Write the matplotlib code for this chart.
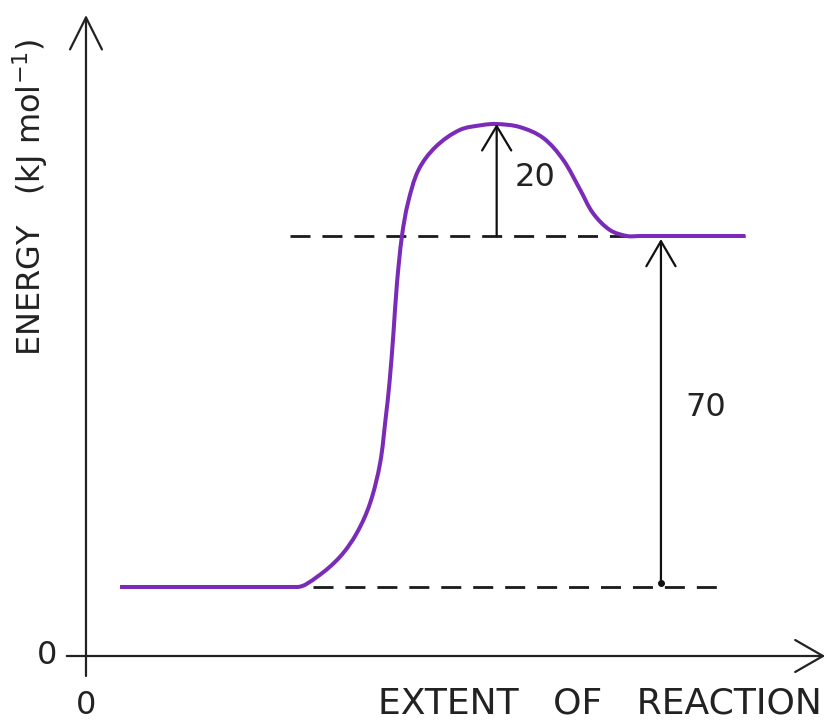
import numpy as np
import matplotlib.pyplot as plt
from matplotlib.path import Path
from matplotlib.patches import PathPatch

# profil d'energie (extent of reaction, energy en kJ/mol)
# points, partie courbe entre le plateau des reactifs et celui des produits
curve_x = [2.85, 3.12, 3.43, 3.66, 3.84, 3.975, 4.047, 4.101, 4.155, 4.203,
           4.27, 4.351, 4.493, 4.723, 5.05, 5.36, 5.55, 5.86, 6.18, 6.45,
           6.68, 6.85, 7.08, 7.31, 7.49]
curve_e = [13.8, 15.8, 19.8, 24.6, 30.6, 38.6, 47.2, 54.6, 64.6, 74.6,
           84.0, 90.6, 97.2, 101.8, 105.2, 106.2, 106.4, 105.8, 103.6, 99.2,
           93.2, 88.6, 85.2, 84.0, 84.0]

reactant_x0 = 0.46
product_x1 = 8.91
reactant_e = 13.8
product_e = 84.0
peak_e = 106.4
peak_x = 5.55
dh_x = 7.77

labels = {"ea": "20", "dh": "70"}

fig = plt.figure(figsize=(8.27, 7.22), dpi=100)
ax = fig.add_axes([0, 0, 1, 1])
ax.set_xlim(-1.162, 10.014)
ax.set_ylim(-13.2, 131.2)
ax.axis("off")

axis_col = "#222222"

# axes avec fleches
ax.annotate("", xy=(0, 128.2), xytext=(0, -4),
            arrowprops=dict(arrowstyle="->,head_length=2.3,head_width=1.15",
                            lw=1.6, color=axis_col, shrinkA=0, shrinkB=0))
ax.annotate("", xy=(9.99, 0), xytext=(-0.26, 0),
            arrowprops=dict(arrowstyle="->,head_length=2.0,head_width=1.15",
                            lw=1.6, color=axis_col, shrinkA=0, shrinkB=0))

# lignes pointillees
ax.plot([2.76, product_x1], [product_e, product_e], color="#1a1a1a", lw=2.0,
        linestyle=(0, (7.2, 4.3)), zorder=2)
ax.plot([3.07, 8.55], [reactant_e, reactant_e], color="#1a1a1a", lw=2.0,
        linestyle=(0, (7.2, 4.3)), zorder=2)

# courbe lissee : bezier par les points lus, tangentes calculees en pixels
pix = ax.transData.transform(np.column_stack([curve_x, curve_e]))
n = len(pix)
dirs = []
for i in range(n):
    if i == 0 or i == n - 1:
        d = np.array([1.0, 0.0])
    else:
        d = pix[i + 1] - pix[i - 1]
        d = d / np.hypot(*d)
    dirs.append(d)

inv = ax.transData.inverted()
verts = [(reactant_x0, reactant_e), (curve_x[0], curve_e[0])]
codes = [Path.MOVETO, Path.LINETO]
for i in range(n - 1):
    seg = np.hypot(*(pix[i + 1] - pix[i]))
    c1 = pix[i] + dirs[i] * seg / 3
    c2 = pix[i + 1] - dirs[i + 1] * seg / 3
    for p in inv.transform(np.array([c1, c2])):
        verts.append(tuple(p))
    verts.append((curve_x[i + 1], curve_e[i + 1]))
    codes += [Path.CURVE4] * 3
verts.append((product_x1, product_e))
codes.append(Path.LINETO)

ax.add_patch(PathPatch(Path(verts, codes), fill=False, edgecolor="#7a2cb8",
                       lw=2.9, capstyle="butt", joinstyle="round", zorder=3))

# fleches 20 et 70
ax.annotate("", xy=(peak_x, peak_e), xytext=(peak_x, product_e),
            arrowprops=dict(arrowstyle="->,head_length=1.75,head_width=1.05",
                            lw=1.6, color="#111111", shrinkA=0, shrinkB=0))
ax.annotate("", xy=(dh_x, product_e - 0.6), xytext=(dh_x, reactant_e + 0.8),
            arrowprops=dict(arrowstyle="->,head_length=1.8,head_width=1.05",
                            lw=1.6, color="#111111", shrinkA=0, shrinkB=0))
ax.plot([dh_x], [reactant_e + 0.8], "o", color="#111111", ms=4)

ax.text(6.07, 95.6, labels["ea"], fontsize=23, ha="center", va="center",
        color="#222222")
ax.text(8.38, 49.6, labels["dh"], fontsize=23, ha="center", va="center",
        color="#222222")

# textes des axes
ax.text(-0.53, 0, "0", fontsize=23, ha="center", va="center", color="#222222")
ax.text(0, -9.8, "0", fontsize=23, ha="center", va="center", color="#222222")
ax.text(9.95, -9.4, "EXTENT   OF   REACTION", fontsize=26, ha="right",
        va="center", color="#222222")
ax.text(-0.76, 91.8, "ENERGY   (kJ mol$^{-1}$)", fontsize=23, rotation=90,
        ha="center", va="center", color="#222222")

fig.savefig("out.png", dpi=100)
